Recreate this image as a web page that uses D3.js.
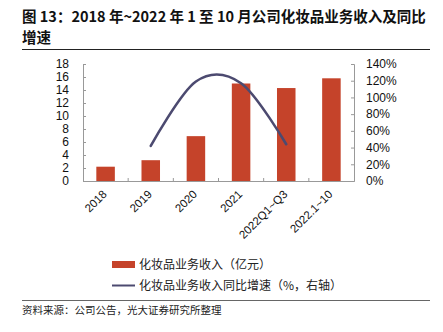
<!DOCTYPE html>
<html>
<head>
<meta charset="utf-8">
<script src="https://cdn.jsdelivr.net/npm/d3@7"></script>
<style>
  body { margin: 0; background: #fff; }
  text { font-family: "Liberation Sans", Arial, sans-serif; }
  .cjk { font-family: "Noto Sans CJK SC", sans-serif; }
</style>
</head>
<body>
<svg id="chart" width="443" height="332"></svg>
<script>
const categories = ['2018', '2019', '2020', '2021', '2022Q1~Q3', '2022.1~10']
const revenue = [2.2, 3.2, 6.9, 15.0, 14.3, 15.8]
const growth = [null, 42, 119, 117, 44, null]
const leftTicks = [0, 2, 4, 6, 8, 10, 12, 14, 16, 18]
const rightTicks = [0, 20, 40, 60, 80, 100, 120, 140]

const svg = d3.select('#chart')
const margin = {left: 83, right: 89, top: 64, bottom: 151}
const W = 443, H = 332
const x = d3.scaleBand().domain(categories).range([margin.left, W - margin.right]).paddingInner(0.59).paddingOuter(0.295)
const y = d3.scaleLinear().domain([0, 18]).range([H - margin.bottom, margin.top])
const y2 = d3.scaleLinear().domain([0, 140]).range([H - margin.bottom, margin.top])

// title
svg.append('text').attr('class', 'cjk').attr('x', 22).attr('y', 22)
  .attr('font-size', 14.5).attr('font-weight', 'bold').attr('fill', '#111')
  .text('图 13：2018 年~2022 年 1 至 10 月公司化妆品业务收入及同比')
svg.append('text').attr('class', 'cjk').attr('x', 22).attr('y', 43)
  .attr('font-size', 14.5).attr('font-weight', 'bold').attr('fill', '#111')
  .text('增速')
svg.append('line').attr('x1', 22).attr('x2', 430).attr('y1', 49.5).attr('y2', 49.5)
  .attr('stroke', '#222').attr('stroke-width', 1)

// bars
svg.append('g').selectAll('rect').data(revenue).join('rect')
  .attr('x', (d, i) => x(categories[i]))
  .attr('width', x.bandwidth())
  .attr('y', d => y(d))
  .attr('height', d => y(0) - y(d))
  .attr('fill', '#c5432a')

// axes
const gl = svg.append('g').attr('transform', `translate(${margin.left},0)`)
  .call(d3.axisLeft(y).tickValues(leftTicks).tickSize(-3).tickPadding(14))
const gr = svg.append('g').attr('transform', `translate(${W - margin.right},0)`)
  .call(d3.axisRight(y2).tickValues(rightTicks).tickSize(-3).tickPadding(12).tickFormat(d => d + '%'))
const step = x.step()
const gx = svg.append('g').attr('transform', `translate(0,${y(0)})`)
  .call(d3.axisBottom(x).tickSize(0).tickPadding(6))
gx.selectAll('.tick text')
  .attr('text-anchor', 'end')
  .attr('transform', 'translate(-8,4) rotate(-45)')
  .attr('dy', '0.7em')
const sep = d3.range(1, categories.length).map(i => margin.left + i * step)
gx.selectAll('.sep').data(sep).join('line').attr('class', 'sep')
  .attr('x1', d => d).attr('x2', d => d).attr('y1', 0).attr('y2', -3)
  .attr('stroke', '#999')
;[gl, gr, gx].forEach(g => {
  g.selectAll('.domain').attr('stroke', '#999')
  g.selectAll('.tick line').attr('stroke', '#999')
  g.selectAll('.tick text').attr('font-size', 12).attr('fill', '#111')
    .style('font-family', '"Liberation Sans", Arial, sans-serif')
})
gx.selectAll('.tick text').attr('font-size', 11.5)

// growth line
const pts = growth.map((d, i) => [x(categories[i]) + x.bandwidth() / 2, d]).filter(p => p[1] !== null)
svg.append('path').datum(pts)
  .attr('d', d3.line().x(p => p[0]).y(p => y2(p[1])).curve(d3.curveCatmullRom.alpha(0)))
  .attr('fill', 'none').attr('stroke', '#4c4a70').attr('stroke-width', 2.6)
  .attr('stroke-linecap', 'round')

// legend
svg.append('rect').attr('x', 112).attr('y', 261).attr('width', 23).attr('height', 7).attr('fill', '#c5432a')
svg.append('text').attr('class', 'cjk').attr('x', 139).attr('y', 269).attr('font-size', 12).attr('fill', '#222')
  .text('化妆品业务收入（亿元）')
svg.append('line').attr('x1', 112).attr('x2', 135).attr('y1', 285.5).attr('y2', 285.5)
  .attr('stroke', '#4c4a70').attr('stroke-width', 2)
svg.append('text').attr('class', 'cjk').attr('x', 139).attr('y', 290).attr('font-size', 12).attr('fill', '#222')
  .text('化妆品业务收入同比增速（%，右轴）')

// source
svg.append('line').attr('x1', 22).attr('x2', 430).attr('y1', 300.5).attr('y2', 300.5)
  .attr('stroke', '#666').attr('stroke-width', 1)
svg.append('text').attr('class', 'cjk').attr('x', 22).attr('y', 314).attr('font-size', 10.5).attr('fill', '#222')
  .text('资料来源：公司公告，光大证券研究所整理')
</script>
</body>
</html>
